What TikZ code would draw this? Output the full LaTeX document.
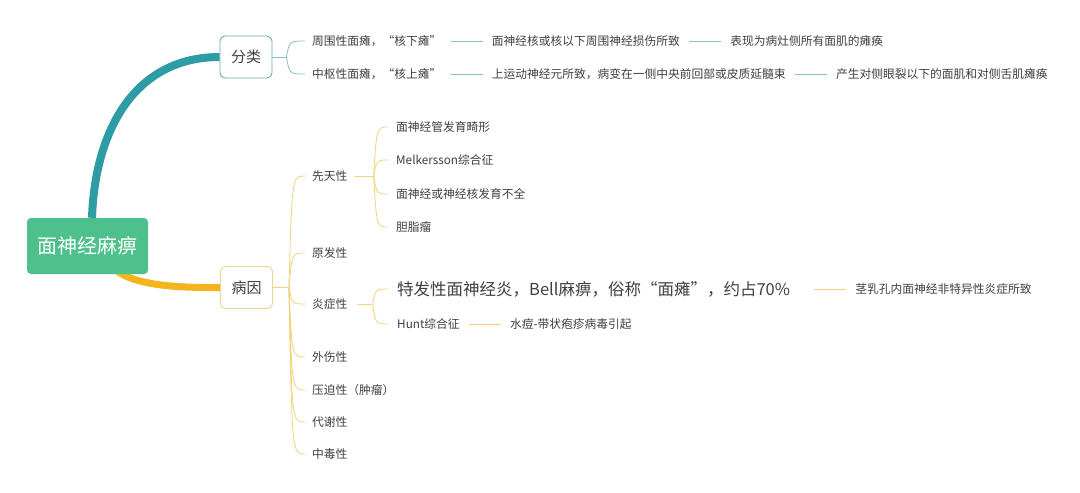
\documentclass[tikz,border=0pt]{standalone}
\usepackage{fontspec}
\setmainfont{Noto Sans CJK SC}
\usepackage{xcolor}
\usepackage{tikz}
\usetikzlibrary{positioning,backgrounds}

\definecolor{rootgreen}{HTML}{4EC08B}
\definecolor{tealbr}{HTML}{2E9CA5}
\definecolor{orangebr}{HTML}{F4B41E}
\definecolor{tealthin}{HTML}{86C2BF}
\definecolor{goldthin}{HTML}{F1D37A}
\definecolor{tealbox}{HTML}{6AAAAB}
\definecolor{goldbox}{HTML}{EFD58E}
\definecolor{txtgrey}{HTML}{404040}

\begin{document}
\begin{tikzpicture}[x=1pt, y=-1pt, node distance=50pt, inner sep=0pt,
  root/.style={rectangle, rounded corners=4pt, fill=rootgreen, text=white, minimum width=121pt, minimum height=56pt, font=\fontsize{20}{24}\selectfont},
  topic/.style={rectangle, rounded corners=5pt, draw=#1, fill=white, text=txtgrey, line width=0.9pt, minimum width=52pt, minimum height=42pt, font=\fontsize{15}{18}\selectfont},
  leaf/.style={anchor=west, text=txtgrey, font=\fontsize{11.75}{14}\selectfont},
  bigleaf/.style={anchor=west, text=txtgrey, font=\fontsize{16.5}{20}\selectfont}]
\useasboundingbox (0,0) rectangle (1080,493);

\tikzstyle{tealline}=[draw=tealthin, line width=0.8pt, shorten >=9pt, shorten <=9pt]
\tikzstyle{goldline}=[draw=goldthin, line width=0.8pt, shorten >=9pt, shorten <=9pt]
\tikzstyle{tealbrace}=[draw=tealthin, line width=0.8pt]
\tikzstyle{goldbrace}=[draw=goldthin, line width=0.8pt]

\node [root] (mian) at (87.5,246) {面神经麻痹};
\node [topic=tealbox] (fenlei) at (246,57) {分类};
\node [topic=goldbox] (bingyin) at (246.5,287.5) {病因};

% 分类
\node [leaf] (zw) at (312,41) {周围性面瘫，“核下瘫”};
\node [leaf] (zw2) [right=of zw] {面神经核或核以下周围神经损伤所致};
\node [leaf] (zw3) [right=of zw2] {表现为病灶侧所有面肌的瘫痪};
\node [leaf] (zs) at (312,74) {中枢性面瘫，“核上瘫”};
\node [leaf] (zs2) [right=of zs] {上运动神经元所致，病变在一侧中央前回部或皮质延髓束};
\node [leaf] (zs3) [right=of zs2] {产生对侧眼裂以下的面肌和对侧舌肌瘫痪};

% 病因
\node [leaf] (xt) at (312,176) {先天性};
\node [leaf] (yf) at (312,253) {原发性};
\node [leaf] (yz) at (312,304) {炎症性};
\node [leaf] (ws) at (312,357) {外伤性};
\node [leaf] (yp) at (312,390) {压迫性（肿瘤）};
\node [leaf] (dx) at (312,422) {代谢性};
\node [leaf] (zd) at (312,454) {中毒性};

\node [leaf] (xt1) at (396,127) {面神经管发育畸形};
\node [leaf] (xt2) at (396,160) {Melkersson综合征};
\node [leaf] (xt3) at (396,194) {面神经或神经核发育不全};
\node [leaf] (xt4) at (396,227) {胆脂瘤};

\node [bigleaf] (bell) at (397,289) {特发性面神经炎，Bell麻痹，俗称“面瘫”，约占70\%};
\node [leaf] (bell2) [right=65pt of bell] {茎乳孔内面神经非特异性炎症所致};
\node [leaf] (hunt) at (397,324) {Hunt综合征};
\node [leaf] (hunt2) [right=of hunt] {水痘-带状疱疹病毒引起};

\coordinate (fj) at ([xshift=14pt]fenlei.east);
\coordinate (bj) at ([xshift=16pt]bingyin.east);
\coordinate (xj) at ([xshift=26pt]xt.east);
\coordinate (yj) at ([xshift=25pt]yz.east);

\begin{scope}[on background layer]
\fill [white] (0,0) rectangle (1080,493);
\draw [tealbr, line width=8pt] ([xshift=4.5pt]mian.north) .. controls (95,130) and (135,57) .. (fenlei.west);
\draw [orangebr, line width=7pt] ([xshift=30pt,yshift=3pt]mian.south) .. controls (135,284) and (170,288) .. (bingyin.west);
\end{scope}

\path
(zw) edge [tealline] (zw2)
(zw2) edge [tealline] (zw3)
(zs) edge [tealline] (zs2)
(zs2) edge [tealline] (zs3)

(bell) edge [goldline, shorten <=24pt] (bell2)
(hunt) edge [goldline] (hunt2);

\draw [tealbrace] (fenlei.east) -- (fj);
\draw [tealbrace] (fj) .. controls ([xshift=3pt]fj |- zw.west) .. ([xshift=-7pt]zw.west);
\draw [tealbrace] (fj) .. controls ([xshift=3pt]fj |- zs.west) .. ([xshift=-7pt]zs.west);

\draw [goldbrace] (bingyin.east) -- (bj);
\draw [goldbrace] (bj) .. controls ([xshift=3pt]bj |- xt.west) .. ([xshift=-7pt]xt.west);
\draw [goldbrace] (bj) .. controls ([xshift=3pt]bj |- yf.west) .. ([xshift=-7pt]yf.west);
\draw [goldbrace] (bj) .. controls ([xshift=3pt]bj |- yz.west) .. ([xshift=-7pt]yz.west);
\draw [goldbrace] (bj) .. controls ([xshift=3pt]bj |- ws.west) .. ([xshift=-7pt]ws.west);
\draw [goldbrace] (bj) .. controls ([xshift=3pt]bj |- yp.west) .. ([xshift=-7pt]yp.west);
\draw [goldbrace] (bj) .. controls ([xshift=3pt]bj |- dx.west) .. ([xshift=-7pt]dx.west);
\draw [goldbrace] (bj) .. controls ([xshift=3pt]bj |- zd.west) .. ([xshift=-7pt]zd.west);

\draw [goldbrace] ([xshift=7pt]xt.east) -- (xj);
\draw [goldbrace] (xj) .. controls ([xshift=3pt]xj |- xt1.west) .. ([xshift=-8pt]xt1.west);
\draw [goldbrace] (xj) .. controls ([xshift=3pt]xj |- xt2.west) .. ([xshift=-8pt]xt2.west);
\draw [goldbrace] (xj) .. controls ([xshift=3pt]xj |- xt3.west) .. ([xshift=-8pt]xt3.west);
\draw [goldbrace] (xj) .. controls ([xshift=3pt]xj |- xt4.west) .. ([xshift=-8pt]xt4.west);

\draw [goldbrace] ([xshift=9pt]yz.east) -- (yj);
\draw [goldbrace] (yj) .. controls ([xshift=3pt]yj |- bell.west) .. ([xshift=-8pt]bell.west);
\draw [goldbrace] (yj) .. controls ([xshift=3pt]yj |- hunt.west) .. ([xshift=-8pt]hunt.west);
\end{tikzpicture}
\end{document}
